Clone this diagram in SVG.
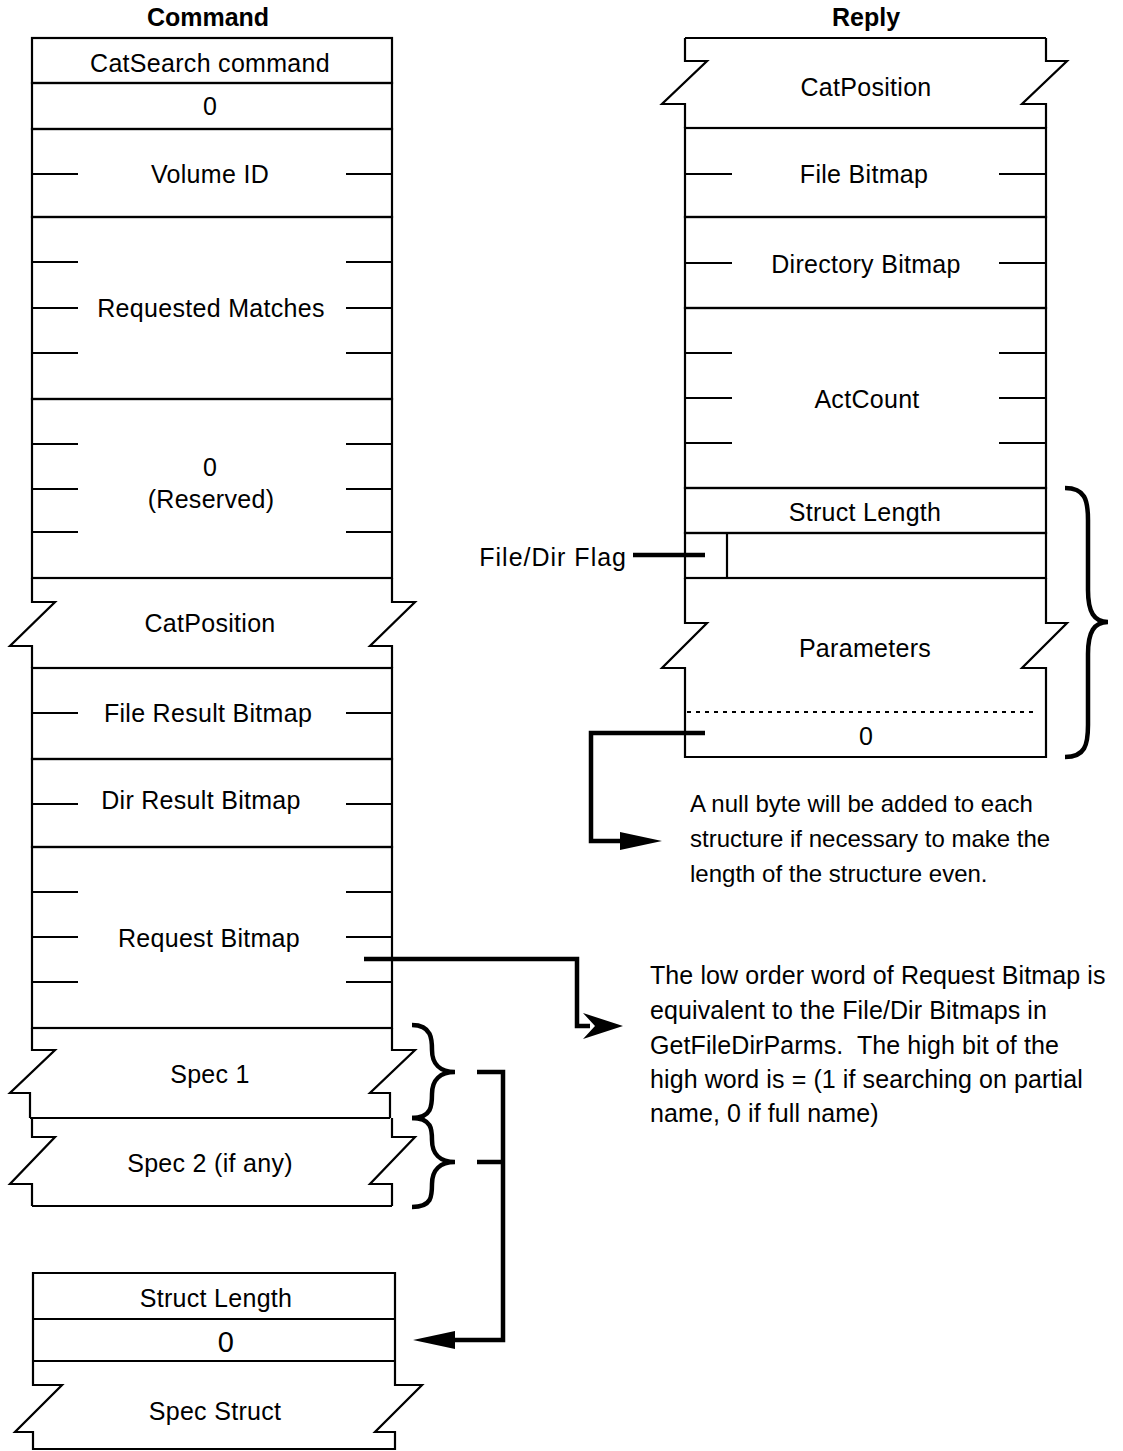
<svg xmlns="http://www.w3.org/2000/svg" width="1123" height="1451" viewBox="0 0 1123 1451">
<style>
text{font-family:"Liberation Sans",Arial,sans-serif;font-size:25px;letter-spacing:0.3px;fill:#000}
.c{text-anchor:middle}
.b{font-weight:bold;letter-spacing:0}
.note{font-size:24px;letter-spacing:0}
.note2{font-size:25px;letter-spacing:0.1px}
.box{fill:none;stroke:#000;stroke-width:2.2;stroke-linejoin:miter}
.tick{stroke:#000;stroke-width:2.2}
.thick{fill:none;stroke:#000;stroke-width:4.5;stroke-linejoin:miter}
.dash{stroke:#000;stroke-width:2;stroke-dasharray:4 5}
.pre{white-space:pre}
</style>
<rect width="1123" height="1451" fill="#fff"/>
<text class="c b" x="208" y="26">Command</text>
<text class="c b" x="866" y="26">Reply</text>

<g id="cmd-catsearch"><rect class="box" x="32" y="38" width="360" height="45"/><text class="c" x="210" y="72">CatSearch command</text></g>
<g id="cmd-zero"><rect class="box" x="32" y="83" width="360" height="46"/><text class="c" x="210" y="115">0</text></g>
<g id="cmd-volid"><rect class="box" x="32" y="129" width="360" height="88"/>
<path class="tick" d="M32 174H78M346 174H392"/><text class="c" x="210" y="183">Volume ID</text></g>
<g id="cmd-reqmatches"><rect class="box" x="32" y="217" width="360" height="182"/>
<path class="tick" d="M32 262H78M346 262H392M32 308H78M346 308H392M32 353H78M346 353H392"/><text class="c" x="211" y="317">Requested Matches</text></g>
<g id="cmd-reserved"><rect class="box" x="32" y="399" width="360" height="179"/>
<path class="tick" d="M32 444H78M346 444H392M32 489H78M346 489H392M32 532H78M346 532H392"/><text class="c" x="210" y="476">0</text><text class="c" x="211" y="508">(Reserved)</text></g>
<g id="cmd-catposition"><path class="box" d="M32 578H392M32 578V602H55L10 646H32V668M392 578V602H415L370 646H392V668M32 668H392"/><text class="c" x="210" y="632">CatPosition</text></g>
<g id="cmd-fileresult"><rect class="box" x="32" y="668" width="360" height="91"/>
<path class="tick" d="M32 713H78M346 713H392"/><text class="c" x="208" y="722">File Result Bitmap</text></g>
<g id="cmd-dirresult"><rect class="box" x="32" y="759" width="360" height="88"/>
<path class="tick" d="M32 804H78M346 804H392"/><text class="c" x="201" y="809">Dir Result Bitmap</text></g>
<g id="cmd-reqbitmap"><rect class="box" x="32" y="847" width="360" height="181"/>
<path class="tick" d="M32 892H78M346 892H392M32 937H78M346 937H392M32 982H78M346 982H392"/><text class="c" x="209" y="947">Request Bitmap</text></g>
<g id="cmd-spec1"><path class="box" d="M32 1028H392M32 1028V1050H55L10 1093H30V1118M392 1028V1050H415L370 1093H390V1118M30 1118H390"/><text class="c" x="210" y="1083">Spec 1</text></g>
<g id="cmd-spec2"><path class="box" d="M32 1118V1137H55L10 1184H32V1206M392 1118V1137H415L370 1184H392V1206M32 1206H392"/><text class="c" x="210" y="1172">Spec 2 (if any)</text></g>

<g id="spec-struct"><path class="box" d="M33 1273H395V1361H33ZM33 1319H395M33 1361V1385H62L15 1432H33V1449H395V1432H375L422 1385H395V1361"/>
<text class="c" x="216" y="1307">Struct Length</text><text class="c" x="226" y="1352" style="font-size:29px">0</text><text class="c" x="215" y="1420">Spec Struct</text></g>

<g id="rep-catposition"><path class="box" d="M685 38H1046M685 38V61H707L662 104H685V128M1046 38V61H1067L1022 104H1046V128M685 128H1046"/><text class="c" x="866" y="96">CatPosition</text></g>
<g id="rep-filebitmap"><rect class="box" x="685" y="128" width="361" height="89"/>
<path class="tick" d="M685 174H732M999 174H1046"/><text class="c" x="864" y="183">File Bitmap</text></g>
<g id="rep-dirbitmap"><rect class="box" x="685" y="217" width="361" height="91"/>
<path class="tick" d="M685 263H732M999 263H1046"/><text class="c" x="866" y="273">Directory Bitmap</text></g>
<g id="rep-actcount"><rect class="box" x="685" y="308" width="361" height="180"/>
<path class="tick" d="M685 353H732M999 353H1046M685 398H732M999 398H1046M685 443H732M999 443H1046"/><text class="c" x="867" y="408">ActCount</text></g>
<g id="rep-structlength"><rect class="box" x="685" y="488" width="361" height="45"/><text class="c" x="865" y="521">Struct Length</text></g>
<g id="rep-flag"><rect class="box" x="685" y="533" width="361" height="45"/><path class="tick" d="M727 533V578"/></g>
<g id="rep-parameters"><path class="box" d="M685 578V623H707L662 668H685V757H1046V668H1022L1067 623H1046V578"/>
<path class="dash" d="M687 712H1038"/><text class="c" x="865" y="657">Parameters</text><text class="c" x="866" y="745">0</text></g>

<g id="label-fileflag"><text x="627" y="566" style="text-anchor:end;letter-spacing:1px">File/Dir Flag</text></g>
<g id="note-null"><text class="note" x="690" y="812">A null byte will be added to each</text><text class="note" x="690" y="847">structure if necessary to make the</text><text class="note" x="690" y="882">length of the structure even.</text></g>
<g id="note-request"><text class="note2" x="650" y="984">The low order word of Request Bitmap is</text><text class="note2" x="650" y="1019">equivalent to the File/Dir Bitmaps in</text><text class="note2 pre" x="650" y="1054">GetFileDirParms.  The high bit of the</text><text class="note2" x="650" y="1088">high word is = (1 if searching on partial</text><text class="note2" x="650" y="1122">name, 0 if full name)</text></g>

<g id="connectors">
<path class="thick" d="M633 555H705"/>
<path class="thick" d="M705 733H591V841H622"/>
<polygon points="662,841 620,832 620,850"/>
<path class="thick" d="M364 959H577V1026H590"/>
<polygon points="623,1026 583,1013 595,1026 583,1039"/>
<path class="thick" d="M477 1072H503V1340H455M477 1162H503"/>
<polygon points="413,1340 455,1331 455,1349"/>
<path class="thick" d="M412 1025C432 1025 432 1040 432 1050C432 1064 440 1072 455 1072C440 1072 432 1080 432 1094C432 1105 432 1118 412 1118"/>
<path class="thick" d="M412 1118C432 1118 432 1130 432 1140C432 1154 440 1162 455 1162C440 1162 432 1170 432 1184C432 1196 432 1207 412 1207"/>
<path class="thick" d="M1065 488C1085 488 1088 500 1088 520V590C1088 612 1094 622 1108 622C1094 622 1088 632 1088 654V725C1088 745 1085 757 1065 757"/>
</g>
</svg>
